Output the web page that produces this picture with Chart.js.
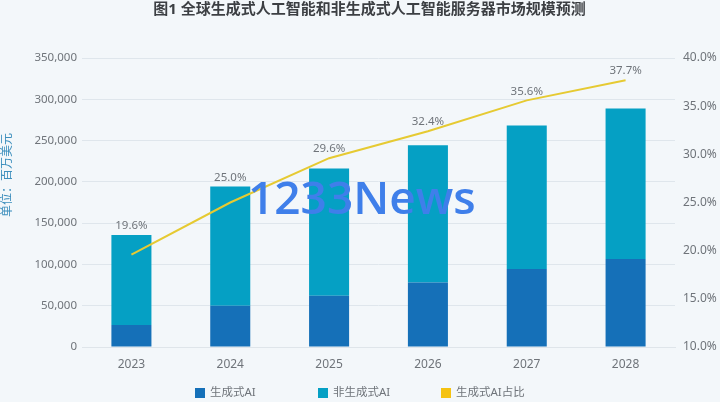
<!DOCTYPE html>
<html><head><meta charset="utf-8">
<script src="https://cdn.jsdelivr.net/npm/chart.js@4"></script>
<style>
html,body{margin:0;padding:0;background:#f3f7fa;width:720px;height:402px;overflow:hidden}
#wrap{position:relative;width:720px;height:402px}
#wm{position:absolute;left:248px;top:166px;font:600 46px "Open Sans","Noto Sans",sans-serif;color:#3f7fea;white-space:nowrap;line-height:60px}
</style></head><body>
<div id="wrap"><canvas id="c" width="720" height="402"></canvas><div id="wm">1233News</div></div>
<script>
const categories=['2023','2024','2025','2026','2027','2028'];
const genAI=[26500,50100,62200,78000,94500,106600];
const nonGenAI=[109100,144200,153900,166300,173700,182100];
const genShare=[19.6,25.0,29.6,32.4,35.6,37.7];
const shareLabels=['19.6%','25.0%','29.6%','32.4%','35.6%','37.7%'];
const titleText='图1 全球生成式人工智能和非生成式人工智能服务器市场规模预测';
const unitText='单位：百万美元';
const FF='"Noto Sans","Noto Sans CJK SC",sans-serif';
const GREY='#6f747a';
const legendSlots=[195,318,441];
const decorations={id:'decorations',
  afterDraw(ch){
    const x=ch.ctx;x.save();
    x.textBaseline='middle';
    // title
    x.font='bold 15px '+FF;x.fillStyle='#3c3f43';x.textAlign='center';
    x.fillText(titleText,369.5,10);
    // unit label
    x.save();x.translate(8,175);x.rotate(-Math.PI/2);
    x.font='12px '+FF;x.fillStyle='#3d8fbd';x.fillText(unitText,0,0);x.restore();
    // legend
    x.textAlign='left';x.font='11.5px '+FF;
    ch.data.datasets.forEach((d,i)=>{
      const l=legendSlots[i];
      x.fillStyle=d.legendColor;x.fillRect(l,388,10,10);
      x.fillStyle=GREY;x.fillText(d.label,l+15,393);
    });
    // point labels: above the higher of line point and stacked bar top
    const line=ch.getDatasetMeta(2),top=ch.getDatasetMeta(1);
    x.font='11.5px '+FF;x.fillStyle=GREY;x.textAlign='center';
    line.data.forEach((p,i)=>x.fillText(shareLabels[i],p.x,Math.min(p.y,top.data[i].y)-9));
    x.restore();
  }};
new Chart(document.getElementById('c'),{
  data:{labels:categories,datasets:[
    {type:'bar',label:'生成式AI',data:genAI,backgroundColor:'#1570b8',legendColor:'#1570b8',stack:'s',yAxisID:'y',order:2,barPercentage:.405,categoryPercentage:1},
    {type:'bar',label:'非生成式AI',data:nonGenAI,backgroundColor:'#05a0c4',legendColor:'#05a0c4',stack:'s',yAxisID:'y',order:2,barPercentage:.405,categoryPercentage:1},
    {type:'line',label:'生成式AI占比',data:genShare,borderColor:'#e6ca32',legendColor:'#f5c211',borderWidth:2,pointRadius:0,tension:0,yAxisID:'y1',order:1}
  ]},
  options:{responsive:false,animation:false,
    layout:{padding:{left:0,right:0,top:58,bottom:0}},
    plugins:{title:{display:false},legend:{display:false},tooltip:{enabled:false}},
    scales:{
      x:{stacked:true,afterFit(s){s.height=55},grid:{display:false},border:{color:'#dfe5ea'},ticks:{color:GREY,padding:2,font:{family:FF,size:12}}},
      y:{stacked:true,position:'left',min:0,max:350000,afterFit(s){s.width=82},
        ticks:{stepSize:50000,color:GREY,padding:5,font:{family:FF,size:11.5},callback:v=>v.toLocaleString('en-US')},
        grid:{color:'#dfe6ec',lineWidth:1,drawTicks:false},border:{display:false}},
      y1:{position:'right',min:10,max:40,afterFit(s){s.width=45},
        ticks:{stepSize:5,color:GREY,padding:0,font:{family:FF,size:12},callback:v=>v.toFixed(1)+'%'},
        grid:{display:false},border:{display:false}}
    }
  },
  plugins:[decorations]
});
</script></body></html>
